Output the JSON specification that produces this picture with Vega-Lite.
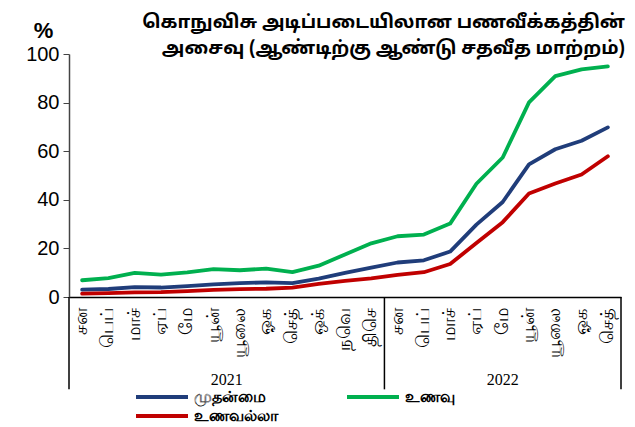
{
  "$schema": "https://vega.github.io/schema/vega-lite/v6.json",
  "width": 552,
  "height": 243,
  "autosize": {"type": "none"},
  "padding": {"left": 69, "top": 54, "right": 14, "bottom": 130},
  "background": "white",
  "config": {"view": {"stroke": null}, "font": "Liberation Sans"},
  "title": {
    "text": ["கொநுவிசு அடிப்படையிலான பணவீக்கத்தின்", "அசைவு (ஆண்டிற்கு ஆண்டு சதவீத மாற்றம்)"],
    "anchor": "end",
    "frame": "group",
    "font": "Noto Sans Tamil, Lohit Tamil, Liberation Sans, sans-serif",
    "fontSize": 18.5,
    "fontWeight": "bold",
    "color": "black",
    "lineHeight": 26,
    "offset": 4,
    "dx": 4,
    "dy": 42
  },
  "datasets": {
    "cpi": [
      {"idx": 0, "series": "முதன்மை", "value": 3.0},
      {"idx": 1, "series": "முதன்மை", "value": 3.3},
      {"idx": 2, "series": "முதன்மை", "value": 4.1},
      {"idx": 3, "series": "முதன்மை", "value": 3.9},
      {"idx": 4, "series": "முதன்மை", "value": 4.5},
      {"idx": 5, "series": "முதன்மை", "value": 5.2},
      {"idx": 6, "series": "முதன்மை", "value": 5.7},
      {"idx": 7, "series": "முதன்மை", "value": 6.0},
      {"idx": 8, "series": "முதன்மை", "value": 5.7},
      {"idx": 9, "series": "முதன்மை", "value": 7.6},
      {"idx": 10, "series": "முதன்மை", "value": 9.9},
      {"idx": 11, "series": "முதன்மை", "value": 12.1},
      {"idx": 12, "series": "முதன்மை", "value": 14.2},
      {"idx": 13, "series": "முதன்மை", "value": 15.1},
      {"idx": 14, "series": "முதன்மை", "value": 18.7},
      {"idx": 15, "series": "முதன்மை", "value": 29.8},
      {"idx": 16, "series": "முதன்மை", "value": 39.1},
      {"idx": 17, "series": "முதன்மை", "value": 54.6},
      {"idx": 18, "series": "முதன்மை", "value": 60.8},
      {"idx": 19, "series": "முதன்மை", "value": 64.3},
      {"idx": 20, "series": "முதன்மை", "value": 69.8},
      {"idx": 0, "series": "உணவு", "value": 6.9},
      {"idx": 1, "series": "உணவு", "value": 7.8},
      {"idx": 2, "series": "உணவு", "value": 9.9},
      {"idx": 3, "series": "உணவு", "value": 9.2},
      {"idx": 4, "series": "உணவு", "value": 10.1},
      {"idx": 5, "series": "உணவு", "value": 11.5},
      {"idx": 6, "series": "உணவு", "value": 11.0},
      {"idx": 7, "series": "உணவு", "value": 11.7},
      {"idx": 8, "series": "உணவு", "value": 10.2},
      {"idx": 9, "series": "உணவு", "value": 12.9},
      {"idx": 10, "series": "உணவு", "value": 17.5},
      {"idx": 11, "series": "உணவு", "value": 22.1},
      {"idx": 12, "series": "உணவு", "value": 25.0},
      {"idx": 13, "series": "உணவு", "value": 25.7},
      {"idx": 14, "series": "உணவு", "value": 30.2},
      {"idx": 15, "series": "உணவு", "value": 46.6},
      {"idx": 16, "series": "உணவு", "value": 57.4},
      {"idx": 17, "series": "உணவு", "value": 80.1},
      {"idx": 18, "series": "உணவு", "value": 90.9},
      {"idx": 19, "series": "உணவு", "value": 93.7},
      {"idx": 20, "series": "உணவு", "value": 94.9},
      {"idx": 0, "series": "உணவல்லா", "value": 1.4},
      {"idx": 1, "series": "உணவல்லா", "value": 1.6},
      {"idx": 2, "series": "உணவல்லா", "value": 1.9},
      {"idx": 3, "series": "உணவல்லா", "value": 2.0},
      {"idx": 4, "series": "உணவல்லா", "value": 2.4},
      {"idx": 5, "series": "உணவல்லா", "value": 2.9},
      {"idx": 6, "series": "உணவல்லா", "value": 3.2},
      {"idx": 7, "series": "உணவல்லா", "value": 3.4},
      {"idx": 8, "series": "உணவல்லா", "value": 3.9},
      {"idx": 9, "series": "உணவல்லா", "value": 5.4},
      {"idx": 10, "series": "உணவல்லா", "value": 6.6},
      {"idx": 11, "series": "உணவல்லா", "value": 7.7},
      {"idx": 12, "series": "உணவல்லா", "value": 9.1},
      {"idx": 13, "series": "உணவல்லா", "value": 10.2},
      {"idx": 14, "series": "உணவல்லா", "value": 13.6},
      {"idx": 15, "series": "உணவல்லா", "value": 22.2},
      {"idx": 16, "series": "உணவல்லா", "value": 30.8},
      {"idx": 17, "series": "உணவல்லா", "value": 42.6},
      {"idx": 18, "series": "உணவல்லா", "value": 46.7},
      {"idx": 19, "series": "உணவல்லா", "value": 50.4},
      {"idx": 20, "series": "உணவல்லா", "value": 57.9}
    ],
    "months": [
      {"idx": 0, "month": "சன"},
      {"idx": 1, "month": "பெப்"},
      {"idx": 2, "month": "மாச்"},
      {"idx": 3, "month": "ஏப்"},
      {"idx": 4, "month": "மே"},
      {"idx": 5, "month": "யூன்"},
      {"idx": 6, "month": "யூலை"},
      {"idx": 7, "month": "ஓக"},
      {"idx": 8, "month": "செத்"},
      {"idx": 9, "month": "ஒக்"},
      {"idx": 10, "month": "நவெ"},
      {"idx": 11, "month": "திசெ"},
      {"idx": 12, "month": "சன"},
      {"idx": 13, "month": "பெப்"},
      {"idx": 14, "month": "மாச்"},
      {"idx": 15, "month": "ஏப்"},
      {"idx": 16, "month": "மே"},
      {"idx": 17, "month": "யூன்"},
      {"idx": 18, "month": "யூலை"},
      {"idx": 19, "month": "ஓக"},
      {"idx": 20, "month": "செத்"}
    ],
    "years": [
      {"year": "2021", "mid": 5.5},
      {"year": "2022", "mid": 16}
    ],
    "edges": [
      {"pos": -0.5, "bottom": 0, "depth": -38},
      {"pos": 11.5, "bottom": 0, "depth": -38},
      {"pos": 20.5, "bottom": 0, "depth": -38}
    ]
  },
  "layer": [
    {
      "data": {"name": "cpi"},
      "mark": {"type": "line", "strokeWidth": 3.8, "strokeCap": "round", "strokeJoin": "round"},
      "encoding": {
        "x": {
          "field": "idx",
          "type": "quantitative",
          "scale": {"domain": [-0.5, 20.5], "nice": false, "zero": false},
          "axis": {
            "title": null,
            "labels": false,
            "ticks": false,
            "grid": false,
            "domainColor": "black",
            "domainWidth": 1.5
          }
        },
        "y": {
          "field": "value",
          "type": "quantitative",
          "scale": {"domain": [0, 100], "nice": false},
          "axis": {
            "title": "%",
            "titleAngle": 0,
            "titleFontSize": 22,
            "titleFontWeight": "bold",
            "titleColor": "black",
            "titleX": -26,
            "titleY": -12,
            "titleAlign": "center",
            "values": [0, 20, 40, 60, 80, 100],
            "labelFontSize": 20,
            "labelColor": "black",
            "labelPadding": 4,
            "tickSize": 6,
            "tickColor": "#444",
            "domainColor": "#444",
            "domainWidth": 1.5,
            "grid": false
          }
        },
        "color": {
          "field": "series",
          "type": "nominal",
          "scale": {
            "domain": ["முதன்மை", "உணவல்லா", "உணவு"],
            "range": ["#203D7A", "#C00000", "#00B04F"]
          },
          "legend": {
            "title": null,
            "orient": "none",
            "legendX": 101,
            "legendY": 333,
            "columns": 2,
            "columnPadding": 61,
            "rowPadding": 1,
            "padding": 0,
            "symbolType": "M-5.5,0H1",
            "symbolSize": 256,
            "symbolStrokeWidth": 4,
            "labelFontSize": 16,
            "labelFontWeight": "bold",
            "labelColor": "black",
            "labelOffset": 4
          }
        }
      }
    },
    {
      "data": {"name": "months"},
      "mark": {"type": "text", "angle": 270, "align": "right", "baseline": "middle", "fontSize": 18, "color": "black", "clip": false},
      "encoding": {
        "x": {"field": "idx", "type": "quantitative"},
        "y": {"datum": -4.5, "type": "quantitative"},
        "text": {"field": "month"}
      }
    },
    {
      "data": {"name": "edges"},
      "mark": {"type": "rule", "color": "black", "strokeWidth": 1.5, "clip": false},
      "encoding": {
        "x": {"field": "pos", "type": "quantitative"},
        "y": {"field": "bottom", "type": "quantitative"},
        "y2": {"field": "depth"}
      }
    },
    {
      "data": {"name": "years"},
      "mark": {"type": "text", "font": "Liberation Serif", "fontSize": 16, "color": "black", "clip": false},
      "encoding": {
        "x": {"field": "mid", "type": "quantitative"},
        "y": {"datum": -34, "type": "quantitative"},
        "text": {"field": "year"}
      }
    }
  ]
}
